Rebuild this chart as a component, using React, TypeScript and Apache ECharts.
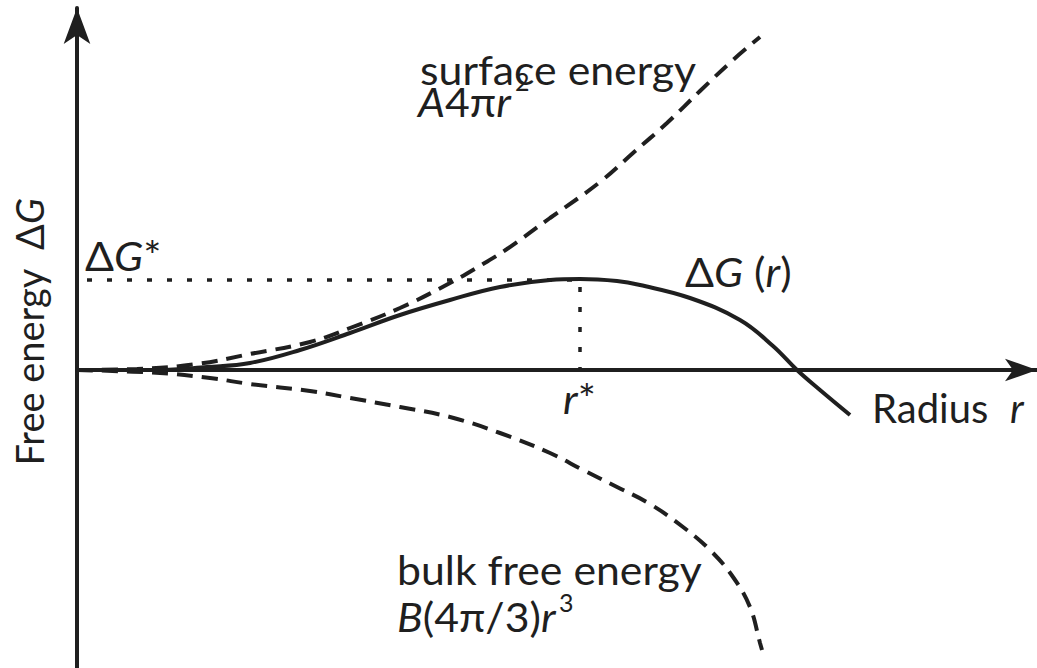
import React, { useEffect, useRef } from "react";
import * as echarts from "echarts";

// Readings from the picture (r in arbitrary radius units, energy in arbitrary units)
const surfaceEnergy: [number, number][] = [
  [0, 0], [0.6, 0.01], [1.2, 0.06], [1.73, 0.16], [2.33, 0.28], [2.73, 0.42],
  [3.23, 0.62], [3.73, 0.87], [4.06, 1.06], [4.3, 1.21], [4.73, 1.52],
  [5.23, 1.88], [5.56, 2.17], [5.9, 2.47], [6.23, 2.79], [6.56, 3.1], [6.83, 3.33],
];
const bulkEnergy: [number, number][] = [
  [0, 0], [0.83, -0.03], [1.33, -0.08], [1.73, -0.14], [2.33, -0.21], [2.73, -0.28],
  [3.23, -0.37], [3.73, -0.47], [4.23, -0.63], [4.73, -0.83], [5.06, -1.0],
  [5.4, -1.17], [5.73, -1.34], [6.06, -1.57], [6.33, -1.8], [6.56, -2.07],
  [6.73, -2.37], [6.83, -2.73], [6.85, -2.8],
];
const deltaG: [number, number][] = [
  [0, 0], [0.8, 0.0], [1.3, 0.03], [1.73, 0.07], [2.23, 0.2], [2.73, 0.37],
  [3.23, 0.55], [3.73, 0.7], [4.23, 0.83], [4.73, 0.9], [5.03, 0.91],
  [5.4, 0.89], [5.63, 0.85], [6.13, 0.72], [6.63, 0.5], [6.96, 0.24],
  [7.2, 0.0], [7.43, -0.2], [7.73, -0.45],
];
const criticalR = 5.03;
const criticalG = 0.9;
const guide: [number, number][] = [
  [0.1, criticalG], [criticalR, criticalG], [criticalR, 0],
];

const X_MIN = 0;
const X_MAX = 9.6;
const Y_MIN = -2.98;
const Y_MAX = 3.62;

const FONT = 'Lato, "Open Sans", "DejaVu Sans", sans-serif';
const INK = "#1f1f1f";
const S = 40;
const SUP = 25;
const STRETCH = 1.07;

function richSet(size: number) {
  return {
    n: { fontSize: size, fontFamily: FONT, fill: INK },
    i: { fontSize: size, fontFamily: FONT, fontStyle: "italic", fill: INK },
  };
}

function txt(x: number, y: number, text: string, size: number, scaleX = STRETCH) {
  return {
    type: "text",
    x,
    y,
    scaleX,
    silent: true,
    style: {
      text,
      fontSize: size,
      fontFamily: FONT,
      fill: INK,
      align: "left",
      verticalAlign: "middle",
      rich: richSet(size),
    },
  };
}

export default function App() {
  const ref = useRef<HTMLDivElement>(null);
  useEffect(() => {
    if (!ref.current) return;
    const chart = echarts.init(ref.current, undefined, { renderer: "svg" });
    const axisCommon = {
      axisTick: { show: false },
      axisLabel: { show: false },
      splitLine: { show: false },
    };
    chart.setOption({
      animation: false,
      backgroundColor: "#ffffff",
      grid: { left: 77, right: 0, top: 8, bottom: 0, containLabel: false },
      xAxis: {
        type: "value",
        min: X_MIN,
        max: X_MAX,
        ...axisCommon,
        axisLine: {
          show: true,
          onZero: true,
          symbol: ["none", "arrow"],
          symbolSize: [17, 32],
          lineStyle: { color: INK, width: 4 },
        },
      },
      yAxis: {
        type: "value",
        min: Y_MIN,
        max: Y_MAX,
        ...axisCommon,
        axisLine: {
          show: true,
          onZero: true,
          symbol: ["none", "arrow"],
          symbolSize: [20, 36],
          lineStyle: { color: INK, width: 4 },
        },
      },
      series: [
        {
          type: "line",
          data: guide,
          showSymbol: false,
          lineStyle: { color: INK, width: 3.5, type: [5, 15] },
          z: 3,
        },
        {
          type: "line",
          data: surfaceEnergy,
          smooth: 0.4,
          showSymbol: false,
          lineStyle: { color: INK, width: 4, type: [16, 9] },
          z: 4,
        },
        {
          type: "line",
          data: bulkEnergy,
          smooth: 0.4,
          showSymbol: false,
          lineStyle: { color: INK, width: 4, type: [16, 9] },
          z: 4,
        },
        {
          type: "line",
          data: deltaG,
          smooth: 0.4,
          showSymbol: false,
          lineStyle: { color: INK, width: 4 },
          z: 5,
        },
      ],
      graphic: [
        // y-axis title (rotated)
        {
          type: "text",
          x: 29,
          y: 332,
          rotation: Math.PI / 2,
          silent: true,
          style: {
            text: "{n|Free energy  Δ}{i|G}",
            rich: richSet(38),
            fontSize: 38,
            fontFamily: FONT,
            fill: INK,
            align: "center",
            verticalAlign: "middle",
          },
        },
        txt(85, 256, "{n|Δ}{i|G}{n|*}", S),
        txt(420, 70, "{n|surface energy}", S),
        txt(418, 102, "{i|A}{n|4π}{i|r}", S),
        txt(515, 81, "{n|2}", SUP, 1),
        txt(685, 272, "{n|Δ}{i|G}{n| (}{i|r}{n|)}", S),
        txt(563, 399, "{i|r}{n|*}", S),
        txt(872, 408, "{n|Radius}", S, 1),
        txt(1010, 408, "{i|r}", S, 1),
        txt(397, 570, "{n|bulk free energy}", S),
        txt(397, 617, "{i|B}{n|(4π/3)}{i|r}", S),
        txt(559, 602, "{n|3}", SUP, 1),
      ],
    });
    return () => chart.dispose();
  }, []);
  return (
    <div
      ref={ref}
      style={{ position: "fixed", left: 0, top: 0, width: 1037, height: 668, background: "#fff" }}
    />
  );
}
